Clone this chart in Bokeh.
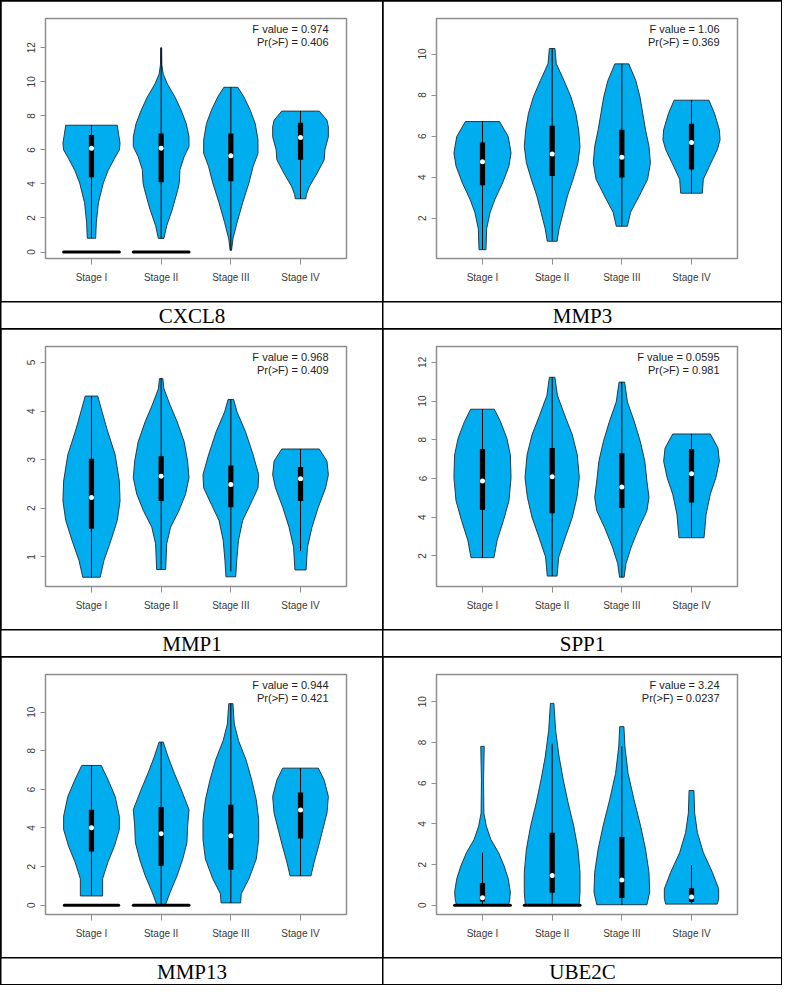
from bokeh.plotting import figure
from bokeh.models import Range1d, FixedTicker, Label, GridBox
from bokeh.core.properties import value
from bokeh.embed import file_html
from bokeh.resources import INLINE

# ---------------- data ----------------
stages = ["Stage I", "Stage II", "Stage III", "Stage IV"]
genes = ["CXCL8", "MMP3", "MMP1", "SPP1", "MMP13", "UBE2C"]
f_values = ["0.974", "1.06", "0.968", "0.0595", "0.944", "3.24"]
p_values = ["0.406", "0.369", "0.409", "0.981", "0.421", "0.0237"]

# violin profiles: (expression, half-width) from bottom to top, one list per stage
# boxes: (whisker low, Q1, median, Q3, whisker high)
# zero: half-width of the black bar drawn at 0 (0 = none)

CXCL8_yticks = [0, 2, 4, 6, 8, 10, 12]
CXCL8_ylim = (-0.38, 13.72)
CXCL8_violins = [
    [(0.81, 0.06), (1.74, 0.07), (2.9, 0.10), (4.06, 0.17), (4.8, 0.24), (5.5, 0.33), (6.0, 0.40), (6.4, 0.41), (6.9, 0.39), (7.45, 0.37)],
    [(0.8, 0.04), (1.55, 0.08), (2.5, 0.16), (3.68, 0.24), (4.06, 0.26), (4.84, 0.27), (5.6, 0.33), (6.2, 0.40), (6.77, 0.40), (7.55, 0.36), (8.3, 0.29), (9.1, 0.20), (9.87, 0.09), (10.45, 0.03), (11.0, 0.01), (12.0, 0.007)],
    [(0.1, 0.01), (0.77, 0.03), (1.74, 0.09), (2.9, 0.17), (4.06, 0.26), (5.03, 0.32), (5.8, 0.39), (6.58, 0.39), (7.55, 0.35), (8.32, 0.28), (9.1, 0.19), (9.68, 0.10)],
    [(3.13, 0.075), (3.39, 0.085), (3.87, 0.13), (4.64, 0.24), (5.42, 0.34), (6.0, 0.35), (6.77, 0.40), (7.35, 0.40), (7.74, 0.38), (8.28, 0.27)],
]
CXCL8_boxes = [(0.81, 4.39, 6.10, 6.87, 7.45), (0.8, 4.1, 6.1, 6.97, 12.0), (0.1, 4.16, 5.65, 6.97, 9.68), (3.13, 5.42, 6.73, 7.59, 8.28)]
CXCL8_zero = [0.40, 0.40, 0.0, 0.0]

MMP3_yticks = [2, 4, 6, 8, 10]
MMP3_ylim = (0.04, 11.73)
MMP3_violins = [
    [(0.47, 0.05), (1.49, 0.06), (2.29, 0.11), (2.93, 0.18), (3.73, 0.29), (4.54, 0.38), (5.18, 0.41), (5.98, 0.37), (6.71, 0.245)],
    [(0.88, 0.07), (1.49, 0.10), (2.29, 0.16), (3.09, 0.22), (3.9, 0.30), (4.7, 0.37), (5.5, 0.40), (6.31, 0.38), (7.11, 0.34), (7.91, 0.27), (8.71, 0.17), (9.52, 0.06), (10.27, 0.04)],
    [(1.61, 0.08), (2.29, 0.125), (3.09, 0.25), (3.9, 0.37), (4.7, 0.41), (5.5, 0.39), (6.31, 0.34), (7.11, 0.30), (7.91, 0.26), (8.71, 0.20), (9.52, 0.10)],
    [(3.22, 0.155), (3.9, 0.17), (4.7, 0.28), (5.34, 0.37), (5.82, 0.41), (6.31, 0.40), (7.11, 0.33), (7.75, 0.25)],
]
MMP3_boxes = [(0.47, 3.61, 4.75, 5.69, 6.71), (0.88, 4.06, 5.13, 6.51, 10.27), (1.61, 3.98, 4.97, 6.31, 9.52), (3.22, 4.38, 5.69, 6.6, 7.75)]
MMP3_zero = [0.0, 0.0, 0.0, 0.0]

MMP1_yticks = [1, 2, 3, 4, 5]
MMP1_ylim = (0.39, 5.33)
MMP1_violins = [
    [(0.58, 0.125), (0.93, 0.18), (1.34, 0.28), (1.75, 0.37), (2.15, 0.41), (2.56, 0.40), (3.1, 0.34), (3.64, 0.22), (4.05, 0.14), (4.31, 0.09)],
    [(0.74, 0.065), (1.27, 0.08), (1.61, 0.135), (1.95, 0.255), (2.29, 0.35), (2.63, 0.40), (2.97, 0.38), (3.37, 0.33), (3.78, 0.23), (4.12, 0.13), (4.46, 0.04), (4.67, 0.024)],
    [(0.59, 0.07), (0.93, 0.085), (1.34, 0.11), (1.75, 0.17), (2.08, 0.28), (2.42, 0.39), (2.69, 0.40), (3.1, 0.32), (3.58, 0.21), (3.98, 0.09), (4.24, 0.04)],
    [(0.73, 0.08), (1.2, 0.10), (1.61, 0.165), (2.02, 0.255), (2.42, 0.36), (2.69, 0.40), (2.97, 0.38), (3.22, 0.27)],
]
MMP1_boxes = [(0.58, 1.58, 2.22, 3.02, 4.31), (0.74, 2.15, 2.66, 3.07, 4.67), (0.7, 2.02, 2.49, 2.88, 4.24), (1.12, 2.15, 2.61, 2.85, 3.22)]
MMP1_zero = [0.0, 0.0, 0.0, 0.0]

SPP1_yticks = [2, 4, 6, 8, 10, 12]
SPP1_ylim = (0.42, 12.82)
SPP1_violins = [
    [(1.91, 0.165), (2.8, 0.21), (3.82, 0.30), (4.85, 0.38), (6.04, 0.41), (7.23, 0.40), (8.08, 0.35), (8.93, 0.26), (9.58, 0.17)],
    [(0.96, 0.07), (1.95, 0.095), (2.97, 0.19), (4.0, 0.29), (5.02, 0.355), (6.04, 0.39), (7.23, 0.36), (8.25, 0.29), (9.27, 0.18), (10.3, 0.075), (11.23, 0.04)],
    [(0.9, 0.033), (1.61, 0.06), (2.46, 0.135), (3.48, 0.25), (4.33, 0.36), (5.02, 0.39), (5.87, 0.36), (6.89, 0.33), (7.91, 0.265), (8.93, 0.18), (9.96, 0.08), (10.98, 0.04)],
    [(2.94, 0.18), (4.16, 0.21), (5.19, 0.27), (6.04, 0.35), (6.89, 0.40), (7.57, 0.38), (8.3, 0.27)],
]
SPP1_boxes = [(1.91, 4.37, 5.87, 7.52, 9.58), (0.96, 4.21, 6.09, 7.57, 11.23), (0.9, 4.47, 5.56, 7.3, 10.98), (2.94, 4.76, 6.24, 7.52, 8.3)]
SPP1_zero = [0.0, 0.0, 0.0, 0.0]

MMP13_yticks = [0, 2, 4, 6, 8, 10]
MMP13_ylim = (-0.48, 11.95)
MMP13_violins = [
    [(0.48, 0.16), (1.37, 0.16), (2.22, 0.235), (3.07, 0.33), (3.92, 0.40), (4.61, 0.40), (5.63, 0.34), (6.48, 0.24), (7.24, 0.14)],
    [(0.0, 0.06), (0.68, 0.13), (1.54, 0.23), (2.39, 0.31), (3.24, 0.37), (4.1, 0.38), (4.95, 0.40), (5.97, 0.29), (6.83, 0.19), (7.68, 0.10), (8.45, 0.03)],
    [(0.12, 0.14), (0.6, 0.15), (1.37, 0.26), (2.39, 0.365), (3.41, 0.40), (4.44, 0.40), (5.46, 0.365), (6.48, 0.30), (7.51, 0.22), (8.53, 0.11), (9.39, 0.05), (10.44, 0.03)],
    [(1.52, 0.15), (2.22, 0.195), (3.07, 0.26), (3.92, 0.32), (4.78, 0.38), (5.63, 0.40), (6.48, 0.34), (7.1, 0.255)],
]
MMP13_boxes = [(0.48, 2.78, 4.01, 4.95, 7.24), (0.0, 2.05, 3.7, 5.09, 8.45), (0.12, 1.84, 3.6, 5.2, 10.44), (1.52, 3.45, 4.93, 5.84, 7.1)]
MMP13_zero = [0.39, 0.40, 0.0, 0.0]

UBE2C_yticks = [0, 2, 4, 6, 8, 10]
UBE2C_ylim = (-0.45, 11.34)
UBE2C_violins = [
    [(0.0, 0.37), (0.24, 0.39), (0.65, 0.40), (1.3, 0.37), (1.94, 0.31), (2.59, 0.23), (3.24, 0.12), (3.89, 0.055), (4.54, 0.02), (6.16, 0.015), (7.81, 0.025)],
    [(0.0, 0.385), (0.65, 0.40), (1.62, 0.40), (2.76, 0.37), (3.89, 0.31), (5.02, 0.23), (6.16, 0.16), (7.29, 0.10), (8.59, 0.05), (9.92, 0.025)],
    [(0.03, 0.36), (0.65, 0.40), (1.62, 0.39), (2.76, 0.34), (3.89, 0.27), (5.19, 0.175), (6.48, 0.09), (7.78, 0.045), (8.78, 0.03)],
    [(0.06, 0.37), (0.32, 0.39), (0.81, 0.39), (1.62, 0.30), (2.59, 0.17), (3.57, 0.085), (4.54, 0.045), (5.64, 0.035)],
]
UBE2C_boxes = [(0.0, 0.19, 0.37, 1.1, 2.59), (0.0, 0.62, 1.46, 3.57, 7.94), (0.03, 0.36, 1.25, 3.36, 7.81), (0.06, 0.16, 0.41, 0.84, 1.98)]
UBE2C_zero = [0.40, 0.40, 0.0, 0.0]

panel_data = [
    (CXCL8_violins, CXCL8_boxes, CXCL8_zero, CXCL8_ylim, CXCL8_yticks),
    (MMP3_violins, MMP3_boxes, MMP3_zero, MMP3_ylim, MMP3_yticks),
    (MMP1_violins, MMP1_boxes, MMP1_zero, MMP1_ylim, MMP1_yticks),
    (SPP1_violins, SPP1_boxes, SPP1_zero, SPP1_ylim, SPP1_yticks),
    (MMP13_violins, MMP13_boxes, MMP13_zero, MMP13_ylim, MMP13_yticks),
    (UBE2C_violins, UBE2C_boxes, UBE2C_zero, UBE2C_ylim, UBE2C_yticks),
]

# ---------------- layout / style ----------------
FILL = "#00AEEF"
EDGE = "#1c2a36"
FRAME = "#8f8f8f"
TICK_TXT = "#3a3a3a"
COL_W = [381, 398]
LEFT = [44, 53]
RIGHT = [36, 44]
PLOT_H = 300
TOP = 17
BOTTOM = 43
LABEL_H = 26
X0, X1 = 0.34, 4.66


def build_panel(k, col):
    violins, boxes, zero, ylim, yticks = panel_data[k]
    p = figure(width=COL_W[col], height=PLOT_H,
               x_range=Range1d(X0, X1), y_range=Range1d(*ylim),
               min_border_left=LEFT[col], min_border_right=RIGHT[col],
               min_border_top=TOP, min_border_bottom=BOTTOM,
               toolbar_location=None, tools="", output_backend="svg",
               frame_align=False)
    p.grid.visible = False
    p.background_fill_color = "white"
    p.border_fill_color = "white"
    p.outline_line_color = FRAME
    p.outline_line_width = 1.5

    centers = list(range(1, len(stages) + 1))
    xs, ys = [], []
    for c, prof in zip(centers, violins):
        lv = [v for v, w in prof]
        hw = [w for v, w in prof]
        xs.append([c + w for w in hw] + [c - w for w in hw[::-1]])
        ys.append(lv + lv[::-1])
    p.patches(xs, ys, fill_color=FILL, line_color=EDGE, line_width=0.9)

    zc = [(c, z) for c, z in zip(centers, zero) if z > 0]
    if zc:
        p.segment(x0=[c - z for c, z in zc], y0=[0] * len(zc),
                  x1=[c + z for c, z in zc], y1=[0] * len(zc),
                  line_color="black", line_width=3, line_cap="round")
    p.segment(x0=centers, y0=[b[0] for b in boxes], x1=centers, y1=[b[4] for b in boxes],
              line_color="black", line_width=1)
    p.vbar(x=centers, bottom=[b[1] for b in boxes], top=[b[3] for b in boxes],
           width=0.075, fill_color="black", line_color=None)
    p.scatter(x=centers, y=[b[2] for b in boxes], size=5, fill_color="white", line_color=None)

    # axes
    p.xaxis.ticker = FixedTicker(ticks=centers)
    p.xaxis.major_label_overrides = {c: s for c, s in zip(centers, stages)}
    p.yaxis.ticker = FixedTicker(ticks=yticks)
    p.yaxis.major_label_orientation = "vertical"
    for ax in (p.xaxis, p.yaxis):
        ax.axis_line_color = None
        ax.major_tick_line_color = FRAME
        ax.major_tick_in = 0
        ax.minor_tick_line_color = None
        ax.major_label_text_font = "Liberation Sans"
        ax.major_label_text_font_size = "10px"
        ax.major_label_text_color = TICK_TXT
    p.xaxis.major_tick_out = 6
    p.xaxis.major_label_standoff = 7
    p.yaxis.major_tick_out = 5
    p.yaxis.major_label_standoff = 5

    # statistics text
    frame_w = COL_W[col] - LEFT[col] - RIGHT[col]
    frame_h = PLOT_H - TOP - BOTTOM
    ppx = frame_w / (X1 - X0)
    ppy = frame_h / (ylim[1] - ylim[0])
    xr = X1 - 18 / ppx
    for txt, dy in ((f"F value = {f_values[k]}", 10.5), (f"Pr(>F) = {p_values[k]}", 23.5)):
        p.add_layout(Label(x=xr, y=ylim[1] - dy / ppy, text=txt, text_align="right",
                           text_baseline="middle", text_font="Liberation Sans",
                           text_font_size="11px", text_color="#222222"))
    return p


def build_label(k, col):
    q = figure(width=COL_W[col], height=LABEL_H, x_range=Range1d(0, 1), y_range=Range1d(0, 1),
               min_border=0, toolbar_location=None, tools="", output_backend="svg",
               x_axis_location=None, y_axis_location=None, frame_align=False)
    q.grid.visible = False
    q.outline_line_color = None
    q.background_fill_color = "white"
    q.border_fill_color = "white"
    q.text(x=[0.5], y=[0.5], text=[genes[k]], text_font=value("Liberation Serif"),
           text_font_size="21px", text_align="center", text_baseline="middle",
           text_color="black")
    return q


children = []
for r in range(3):
    for c in range(2):
        k = r * 2 + c
        children.append((build_panel(k, c), 2 * r, c))
        children.append((build_label(k, c), 2 * r + 1, c))

grid = GridBox(children=children, spacing=1,
               styles={"background-color": "black", "padding": "1px"})

open("out.html", "w").write(file_html(grid, INLINE))
